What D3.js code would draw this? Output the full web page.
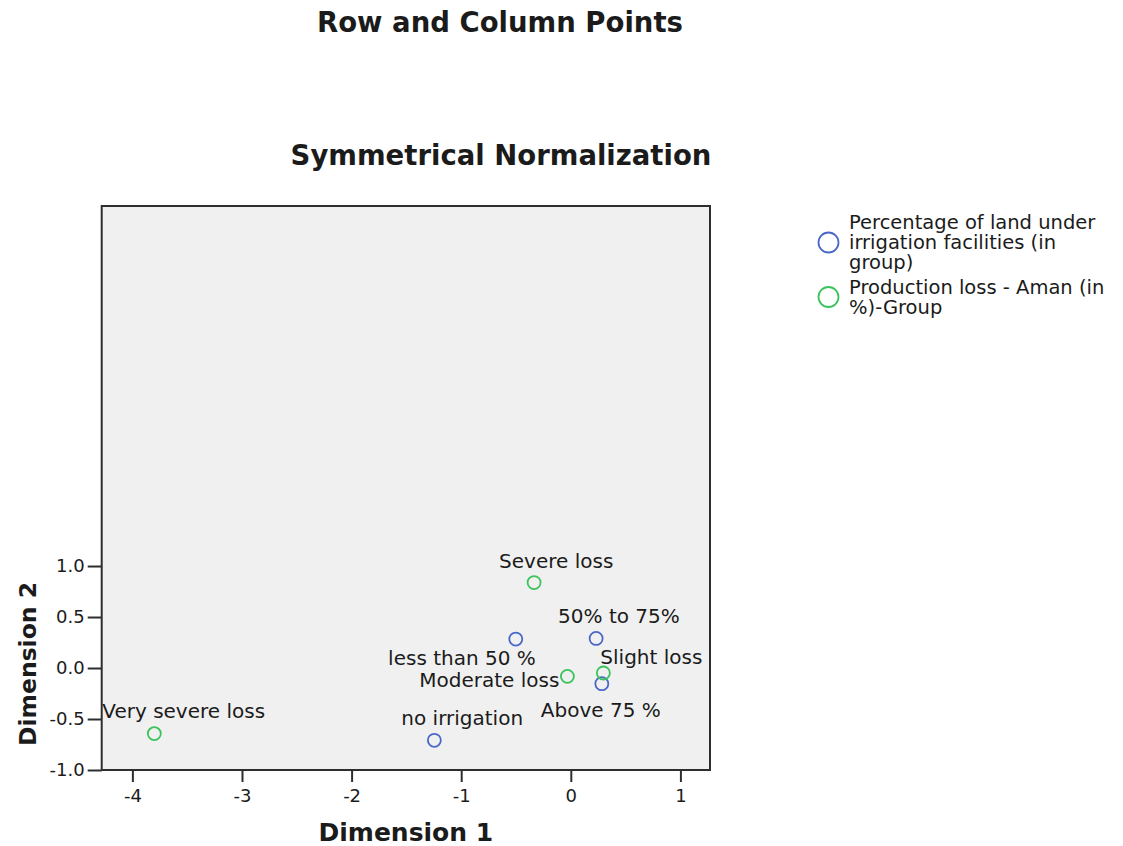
<!DOCTYPE html>
<html>
<head>
<meta charset="utf-8">
<script src="https://cdn.jsdelivr.net/npm/d3@7"></script>
<style>
  html, body { margin: 0; padding: 0; background: #ffffff; }
  svg { display: block; }
  text { font-family: "DejaVu Sans", sans-serif; fill: #1b1b1b; }
</style>
</head>
<body>
<svg id="chart" width="1123" height="846"></svg>
<script>
// Row points: land under irrigation facilities (group)
const rowLabels = ["no irrigation", "less than 50 %", "50% to 75%", "Above 75 %"];
const rowDim1   = [-1.245, -0.502, 0.231, 0.283];
const rowDim2   = [-0.709, 0.284, 0.290, -0.154];

// Column points: production loss - Aman (in %) group
const colLabels = ["Slight loss", "Moderate loss", "Severe loss", "Very severe loss"];
const colDim1   = [0.297, -0.031, -0.335, -3.800];
const colDim2   = [-0.049, -0.082, 0.838, -0.643];

const xTicks = [-4, -3, -2, -1, 0, 1];
const yTicks = [-1.0, -0.5, 0.0, 0.5, 1.0];

const seriesNames = [
  ["Percentage of land under", "irrigation facilities (in", "group)"],
  ["Production loss - Aman (in", "%)-Group"]
];
const seriesColors = ["#4a68c8", "#3cc35c"];

// Label placement around each marker: anchor, x offset, baseline offset (px)
const rowLabelPlace = [
  { anchor: "start", dx: -33, dy: -15 },
  { anchor: "end",   dx: 20,  dy: 26 },
  { anchor: "start", dx: -38, dy: -15 },
  { anchor: "start", dx: -61, dy: 33 }
];
const colLabelPlace = [
  { anchor: "start", dx: -3,  dy: -9 },
  { anchor: "end",   dx: -8,  dy: 11 },
  { anchor: "start", dx: -35, dy: -15 },
  { anchor: "start", dx: -52, dy: -16 }
];

const svg = d3.select("#chart");

const plot = { left: 101.7, right: 710, top: 206, bottom: 770 };

const x = d3.scaleLinear().domain([-4.28, 1.27]).range([plot.left, plot.right]);
const y = d3.scaleLinear().domain([-1.0, 4.53]).range([plot.bottom, plot.top]);

// Titles
svg.append("text")
  .attr("x", 500).attr("y", 32)
  .attr("text-anchor", "middle")
  .style("font-weight", "bold").style("font-size", "27.5px")
  .text("Row and Column Points");

svg.append("text")
  .attr("x", 501).attr("y", 165)
  .attr("text-anchor", "middle")
  .style("font-weight", "bold").style("font-size", "27.5px")
  .text("Symmetrical Normalization");

// Plot background and frame
svg.append("rect")
  .attr("x", plot.left).attr("y", plot.top)
  .attr("width", plot.right - plot.left)
  .attr("height", plot.bottom - plot.top)
  .attr("fill", "#f0f0f0")
  .attr("stroke", "#2e2e2e")
  .attr("stroke-width", 2);

// Axes
const xAxis = svg.append("g")
  .attr("transform", `translate(0,${plot.bottom})`)
  .call(d3.axisBottom(x).tickValues(xTicks).tickFormat(d => String(d)).tickSize(12).tickPadding(7));

const yAxis = svg.append("g")
  .attr("transform", `translate(${plot.left},0)`)
  .call(d3.axisLeft(y).tickValues(yTicks).tickFormat(d => d.toFixed(1)).tickSize(14).tickPadding(3));

[xAxis, yAxis].forEach(g => {
  g.select(".domain").remove();
  g.selectAll(".tick line").attr("stroke", "#2e2e2e").attr("stroke-width", 2);
  g.selectAll(".tick text")
    .style("font-family", "'DejaVu Sans', sans-serif")
    .style("font-size", "18px")
    .attr("fill", "#1b1b1b");
});

// Axis titles
svg.append("text")
  .attr("x", (plot.left + plot.right) / 2).attr("y", 841)
  .attr("text-anchor", "middle")
  .style("font-weight", "bold").style("font-size", "25px")
  .text("Dimension 1");

svg.append("text")
  .attr("transform", `translate(36,${(y(-1) + y(1)) / 2 - 4}) rotate(-90)`)
  .attr("text-anchor", "middle")
  .style("font-weight", "bold").style("font-size", "23.5px")
  .text("Dimension 2");

// Points
const rows = rowLabels.map((l, i) => ({ label: l, d1: rowDim1[i], d2: rowDim2[i], place: rowLabelPlace[i], s: 0 }));
const cols = colLabels.map((l, i) => ({ label: l, d1: colDim1[i], d2: colDim2[i], place: colLabelPlace[i], s: 1 }));
const pts = rows.concat(cols);

const g = svg.append("g");

g.selectAll("text.pt-label")
  .data(pts)
  .join("text")
  .attr("class", "pt-label")
  .attr("x", d => x(d.d1) + d.place.dx)
  .attr("y", d => y(d.d2) + d.place.dy)
  .attr("text-anchor", d => d.place.anchor)
  .style("font-size", "20px")
  .text(d => d.label);

g.selectAll("circle.pt")
  .data(pts)
  .join("circle")
  .attr("class", "pt")
  .attr("cx", d => x(d.d1))
  .attr("cy", d => y(d.d2))
  .attr("r", 6.5)
  .attr("fill", "none")
  .attr("stroke", d => seriesColors[d.s])
  .attr("stroke-width", 1.8);

// Legend
const legend = svg.append("g");
const legendItems = [
  { lines: seriesNames[0], color: seriesColors[0], cy: 242.5, firstBaseline: 229 },
  { lines: seriesNames[1], color: seriesColors[1], cy: 297, firstBaseline: 294 }
];
legendItems.forEach(item => {
  legend.append("circle")
    .attr("cx", 828.5).attr("cy", item.cy).attr("r", 10)
    .attr("fill", "none")
    .attr("stroke", item.color)
    .attr("stroke-width", 1.8);
  const t = legend.append("text")
    .attr("x", 849).attr("y", item.firstBaseline)
    .style("font-size", "19.5px");
  item.lines.forEach((line, i) => {
    t.append("tspan")
      .attr("x", 849)
      .attr("dy", i === 0 ? 0 : 20.2)
      .text(line);
  });
});
</script>
</body>
</html>
